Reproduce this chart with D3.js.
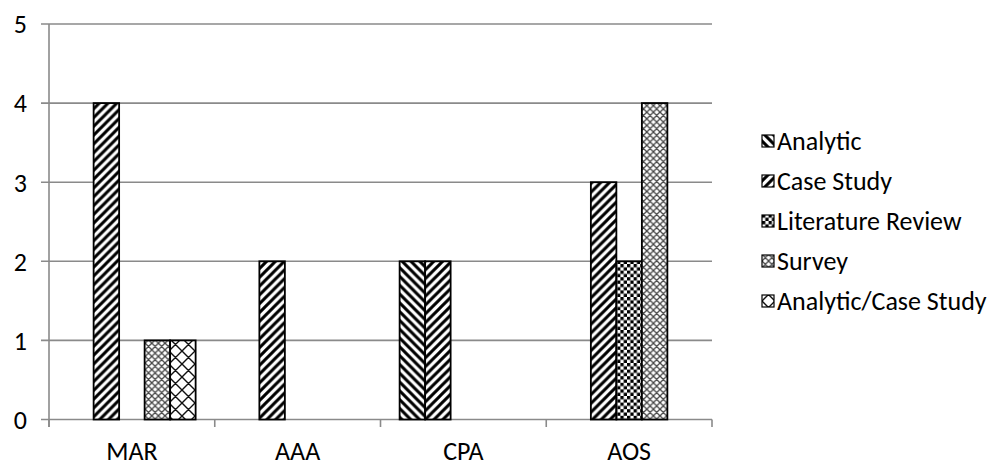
<!DOCTYPE html>
<html>
<head>
<meta charset="utf-8">
<script src="https://cdn.jsdelivr.net/npm/d3@7"></script>
<style>
  html, body { margin: 0; padding: 0; background: #fff; }
  svg { display: block; }
  text { font-family: Carlito, Lato, "Liberation Sans", sans-serif; fill: #000; }
</style>
</head>
<body>
<svg id="chart" width="993" height="466"></svg>
<script>
// Publications per venue, by research method
const categories = ["MAR", "AAA", "CPA", "AOS"];
const seriesNames = ["Analytic", "Case Study", "Literature Review", "Survey", "Analytic/Case Study"];
const analytic          = [0, 0, 2, 0];
const caseStudy         = [4, 2, 2, 3];
const literatureReview  = [0, 0, 0, 2];
const survey            = [1, 0, 0, 4];
const analyticCaseStudy = [1, 0, 0, 0];
const yTicks = [0, 1, 2, 3, 4, 5];

const seriesValues = [analytic, caseStudy, literatureReview, survey, analyticCaseStudy];
const patternIds = ["pat-analytic", "pat-case", "pat-lit", "pat-survey", "pat-acs"];

const svg = d3.select("#chart");
const plot = { left: 49, right: 712, top: 24, bottom: 419.5 };
const fontSize = 26;

const x0 = d3.scaleBand().domain(categories).range([plot.left, plot.right]).padding(0);
// gap between groups equals 150% of one bar width
const barW = x0.bandwidth() / (seriesNames.length + 1.5);
const x1 = d3.scaleBand().domain(seriesNames)
  .range([barW * 0.75, barW * 0.75 + barW * seriesNames.length]).padding(0);
const y = d3.scaleLinear().domain([0, 5]).range([plot.bottom, plot.top]);

// ---- fill patterns (black on white) ----
const defs = svg.append("defs");
function stripePattern(id, dir) {
  const s = 8.8;
  const p = defs.append("pattern").attr("id", id).attr("patternUnits", "userSpaceOnUse")
    .attr("width", s).attr("height", s);
  p.append("rect").attr("width", s).attr("height", s).attr("fill", "#fff");
  const d = dir === "up"
    ? `M${-s/2},${s/2} L${s/2},${-s/2} M0,${s} L${s},0 M${s/2},${s*1.5} L${s*1.5},${s/2}`
    : `M${-s/2},${s/2} L${s/2},${s*1.5} M0,0 L${s},${s} M${s/2},${-s/2} L${s*1.5},${s/2}`;
  p.append("path").attr("d", d).attr("stroke", "#000").attr("stroke-width", 3);
}
stripePattern("pat-analytic", "down");
stripePattern("pat-case", "up");

(function checker() {
  const c = 3.3;
  const p = defs.append("pattern").attr("id", "pat-lit").attr("patternUnits", "userSpaceOnUse")
    .attr("width", 2 * c).attr("height", 2 * c);
  p.append("rect").attr("width", 2 * c).attr("height", 2 * c).attr("fill", "#fff");
  p.append("rect").attr("width", c).attr("height", c).attr("fill", "#000");
  p.append("rect").attr("x", c).attr("y", c).attr("width", c).attr("height", c).attr("fill", "#000");
})();

function diamondPattern(id, s, w, color) {
  const p = defs.append("pattern").attr("id", id).attr("patternUnits", "userSpaceOnUse")
    .attr("width", s).attr("height", s);
  p.append("rect").attr("width", s).attr("height", s).attr("fill", "#fff");
  p.append("path")
    .attr("d", `M0,0 L${s},${s} M${s},0 L0,${s} M${-s/2},${s/2} L${s/2},${-s/2} M${s/2},${s*1.5} L${s*1.5},${s/2} M${-s/2},${s/2} L${s/2},${s*1.5} M${s/2},${-s/2} L${s*1.5},${s/2}`)
    .attr("stroke", color).attr("stroke-width", w);
}
diamondPattern("pat-survey", 6.6, 1.3, "#444");
diamondPattern("pat-acs", 13, 1.4, "#111");

// ---- gridlines and y ticks ----
const grid = svg.append("g");
grid.selectAll("line").data(yTicks).join("line")
  .attr("x1", plot.left - 8).attr("x2", plot.right)
  .attr("y1", d => y(d)).attr("y2", d => y(d))
  .attr("stroke", "#8a8a8a").attr("stroke-width", 1.6);

// y axis line
svg.append("line")
  .attr("x1", plot.left).attr("x2", plot.left)
  .attr("y1", y(5)).attr("y2", plot.bottom + 7.5)
  .attr("stroke", "#8a8a8a").attr("stroke-width", 1.6);

// x axis tick marks at category boundaries
const boundaries = categories.map(c => x0(c)).concat([plot.right]);
svg.append("g").selectAll("line").data(boundaries).join("line")
  .attr("x1", d => d).attr("x2", d => d)
  .attr("y1", plot.bottom).attr("y2", plot.bottom + 7.5)
  .attr("stroke", "#8a8a8a").attr("stroke-width", 1.6);

// y tick labels
svg.append("g").selectAll("text").data(yTicks).join("text")
  .attr("x", 27).attr("y", d => y(d)).attr("dy", "0.36em")
  .attr("text-anchor", "end").attr("font-size", fontSize)
  .text(d => d);

// x category labels
svg.append("g").selectAll("text").data(categories).join("text")
  .attr("x", d => x0(d) + x0.bandwidth() / 2).attr("y", 460)
  .attr("text-anchor", "middle").attr("font-size", fontSize)
  .text(d => d);

// ---- bars ----
const barData = [];
categories.forEach((c, ci) => {
  seriesNames.forEach((s, si) => {
    const v = seriesValues[si][ci];
    if (v > 0) barData.push({ c, s, si, v });
  });
});
svg.append("g").selectAll("rect").data(barData).join("rect")
  .attr("x", d => x0(d.c) + x1(d.s))
  .attr("y", d => y(d.v))
  .attr("width", x1.bandwidth())
  .attr("height", d => y(0) - y(d.v))
  .attr("fill", d => `url(#${patternIds[d.si]})`)
  .attr("stroke", "#000").attr("stroke-width", 1.8);

// ---- legend ----
const legendY = d3.scalePoint().domain(seriesNames).range([141, 301]);
const leg = svg.append("g").selectAll("g").data(seriesNames).join("g")
  .attr("transform", d => `translate(762,${legendY(d)})`);
leg.append("rect")
  .attr("x", 0).attr("y", -6).attr("width", 12).attr("height", 12)
  .attr("fill", (d, i) => `url(#${patternIds[i]})`)
  .attr("stroke", "#000").attr("stroke-width", 1.2);
leg.append("text")
  .attr("x", 15).attr("y", 0).attr("dy", "0.36em")
  .attr("font-size", fontSize)
  .text(d => d);
</script>
</body>
</html>
